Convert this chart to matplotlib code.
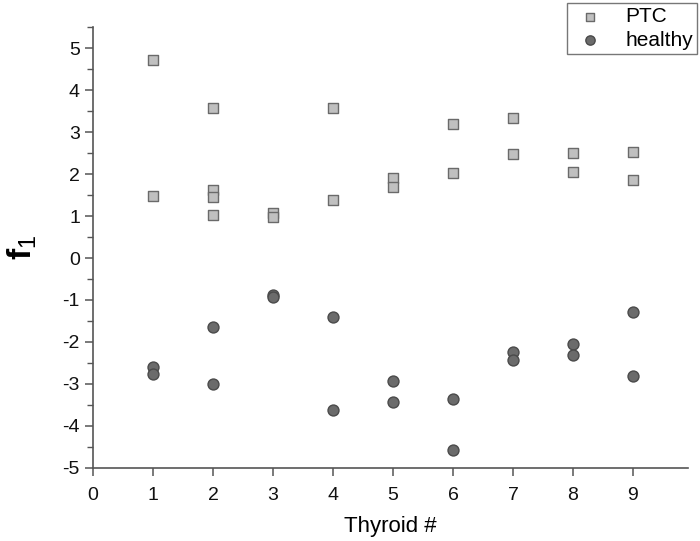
import matplotlib
matplotlib.use("Agg")
import matplotlib.pyplot as plt
from matplotlib.ticker import MultipleLocator

# values
ptc_x = [1, 1, 2, 2, 2, 2, 3, 3, 4, 4, 5, 5, 6, 6, 7, 7, 8, 8, 9, 9]
ptc_y = [4.72, 1.47, 3.57, 1.63, 1.45, 1.03, 1.08, 0.98, 3.57, 1.37,
         1.90, 1.68, 3.18, 2.02, 3.33, 2.48, 2.50, 2.05, 2.52, 1.85]
healthy_x = [1, 1, 2, 2, 3, 3, 4, 4, 5, 5, 6, 6, 7, 7, 8, 8, 9, 9]
healthy_y = [-2.60, -2.77, -1.65, -3.00, -0.88, -0.93, -1.40, -3.62, -2.93, -3.42,
             -3.35, -4.57, -2.25, -2.43, -2.05, -2.30, -1.28, -2.80]
x_ticks = list(range(0, 10))
y_ticks = list(range(-5, 6))

plt.rcParams['font.family'] = ['Liberation Sans', 'DejaVu Sans']
plt.rcParams['axes.unicode_minus'] = False
plt.rcParams['mathtext.fontset'] = 'custom'
plt.rcParams['mathtext.rm'] = 'Liberation Sans'
plt.rcParams['mathtext.bf'] = 'Liberation Sans:bold'

fig = plt.figure(figsize=(7, 5.41), dpi=100)
ax = fig.add_axes([0.133, 0.135, 0.850, 0.815])

ax.scatter(ptc_x, ptc_y, marker='s', s=52, color='#c0c0c0',
           edgecolors='#6a6a6a', linewidths=1.0, label='PTC', zorder=3)
ax.scatter(healthy_x, healthy_y, marker='o', s=62, color='#6b6b6b',
           edgecolors='#4a4a4a', linewidths=1.0, label='healthy', zorder=3)

ax.set_xlim(0, 9.92)
ax.set_ylim(-5, 5.5)
ax.set_xticks(x_ticks)
ax.set_yticks(y_ticks)
ax.yaxis.set_minor_locator(MultipleLocator(0.5))

for side in ['top', 'right']:
    ax.spines[side].set_visible(False)
for side in ['left', 'bottom']:
    ax.spines[side].set_color('#555555')
    ax.spines[side].set_linewidth(1.2)

ax.tick_params(which='major', direction='out', length=6, width=1.1,
               color='#555555', labelsize=14, labelcolor='#111111')
ax.tick_params(axis='x', which='major', pad=8)
ax.tick_params(which='minor', direction='out', length=4, width=1.0,
               color='#555555')

ax.set_xlabel('Thyroid #', fontsize=16, labelpad=8)
ax.set_ylabel(r'$\mathbf{f}_{\mathrm{1}}$', fontsize=24, labelpad=17)

leg = ax.legend(loc='upper right', bbox_to_anchor=(0.996, 0.994),
                bbox_transform=fig.transFigure, fontsize=15,
                frameon=True, fancybox=False, handletextpad=0.8,
                borderpad=0.2, labelspacing=0.2, handlelength=1.8,
                markerscale=0.85, borderaxespad=0)
leg.get_frame().set_edgecolor('#555555')
leg.get_frame().set_linewidth(1.0)

fig.savefig('out.png', dpi=100)
